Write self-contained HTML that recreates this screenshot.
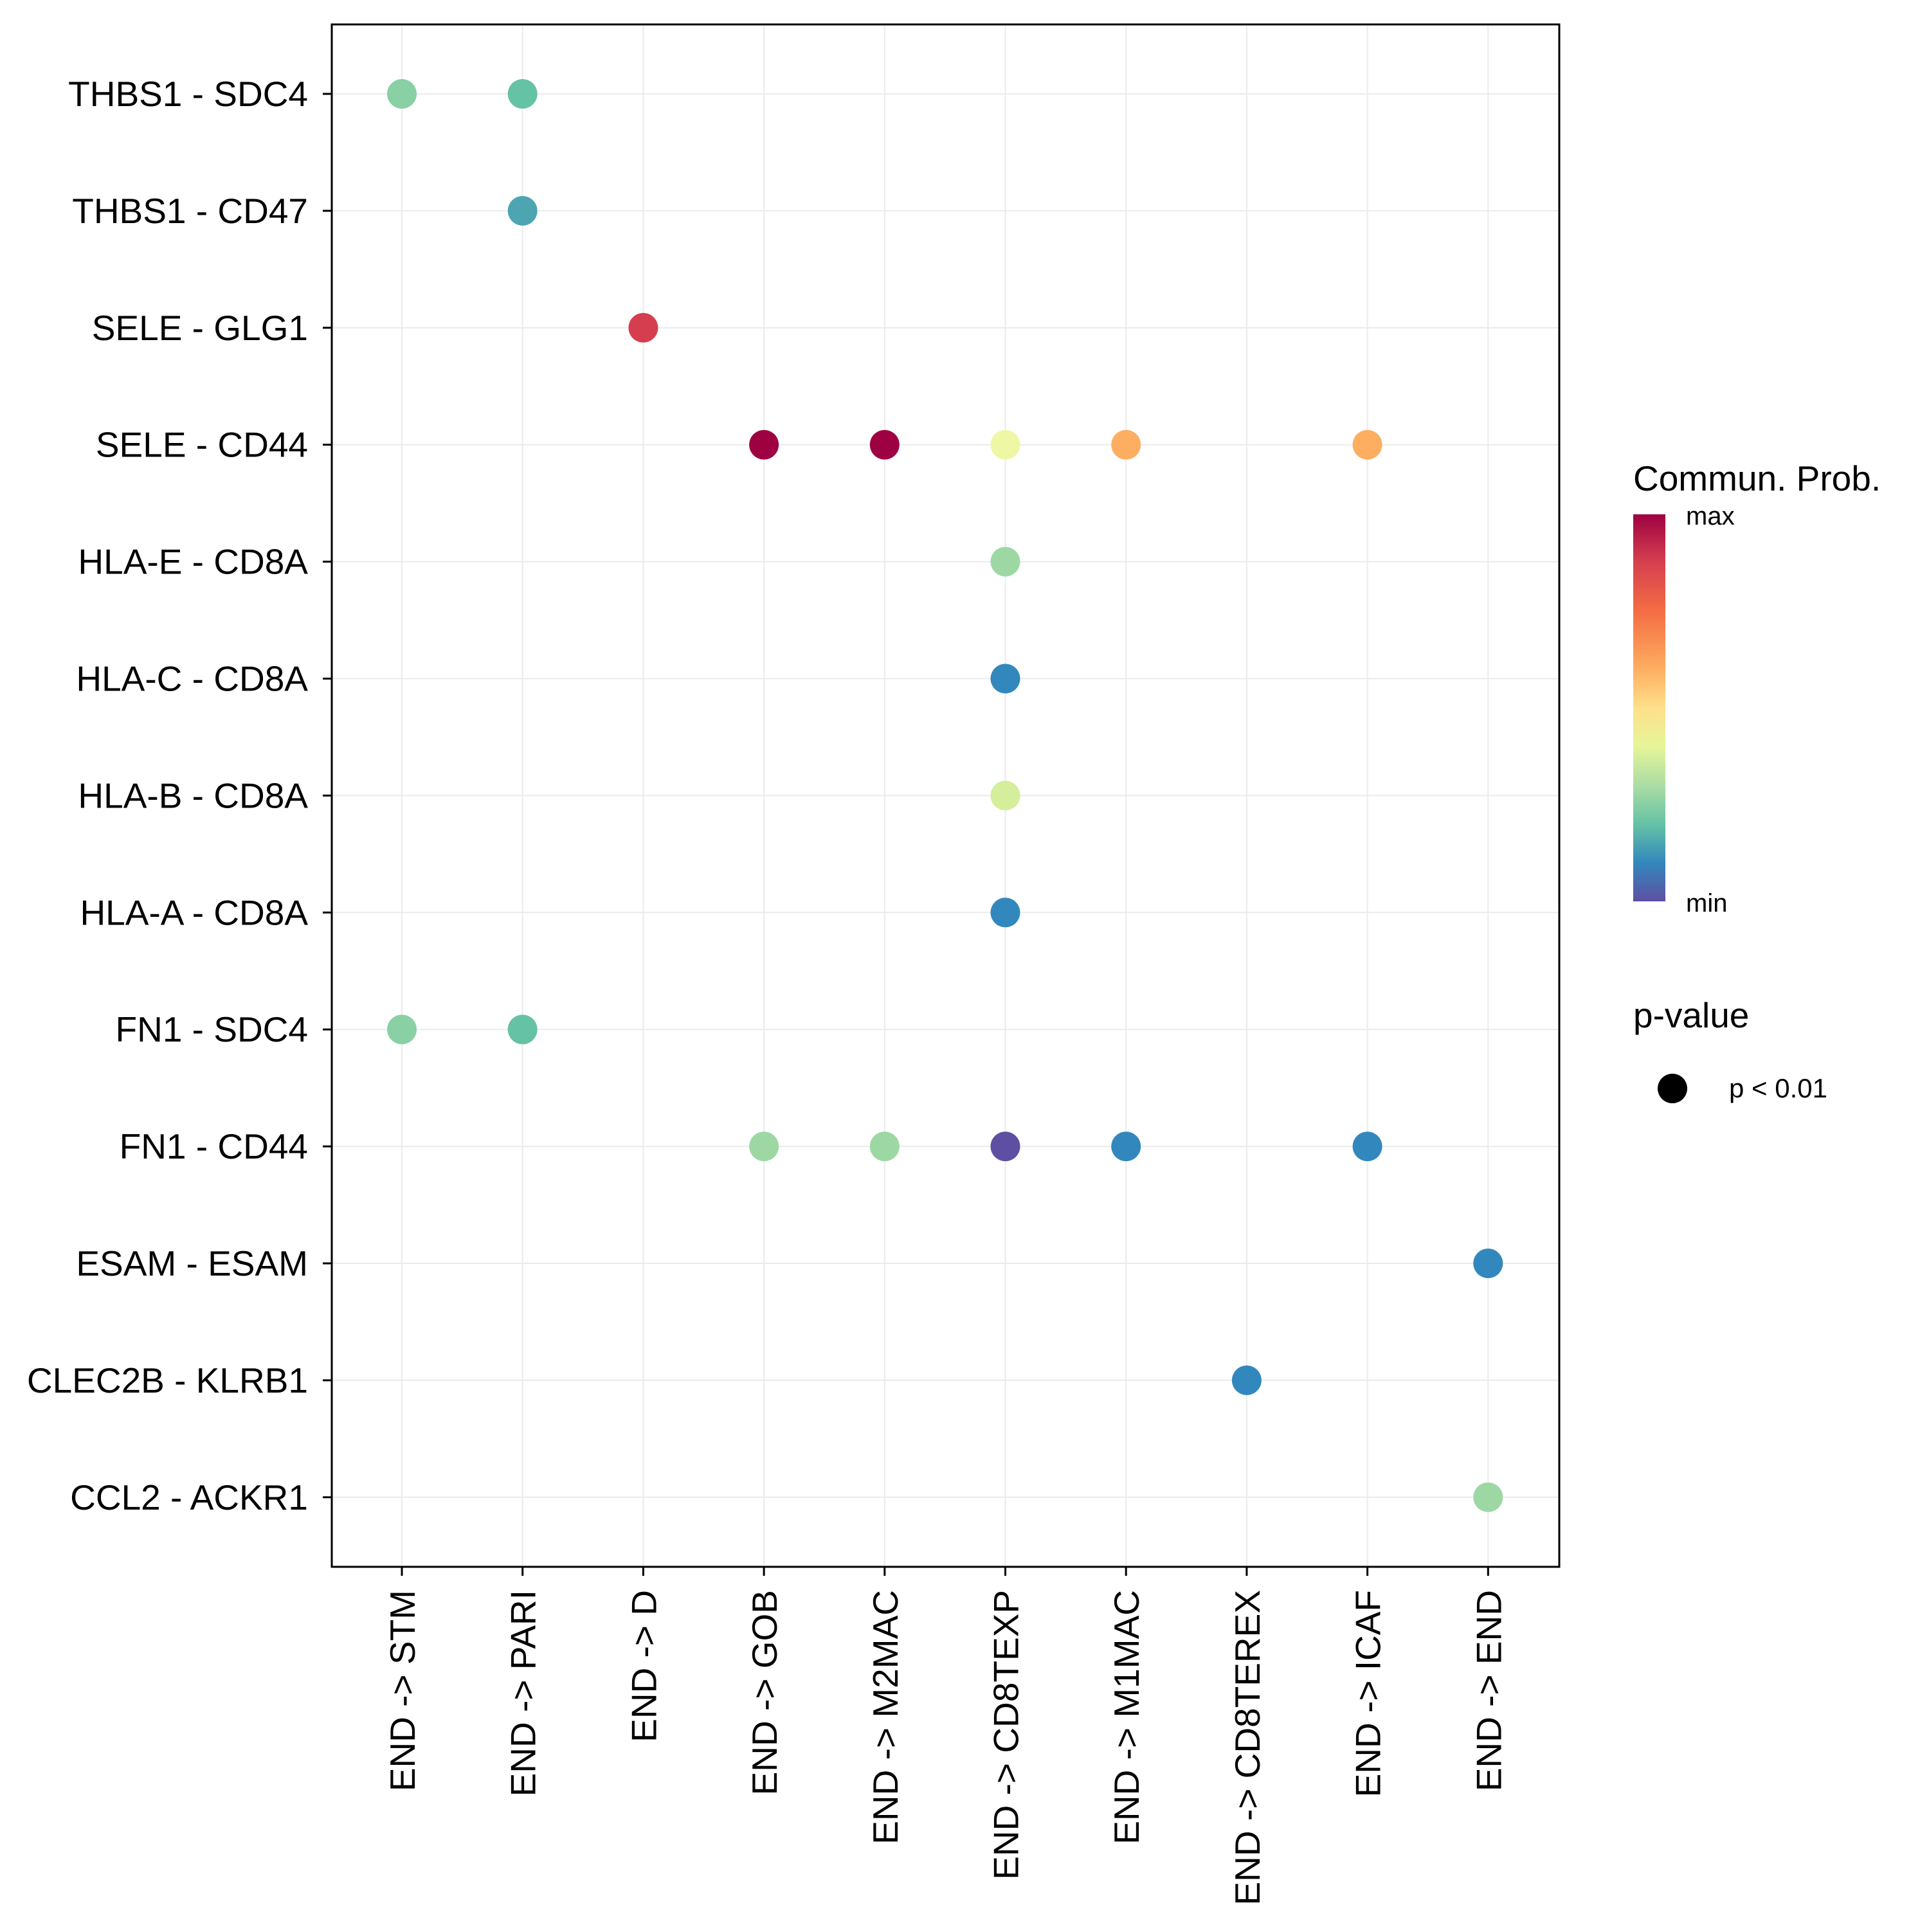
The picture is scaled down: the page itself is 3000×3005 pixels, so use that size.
<!DOCTYPE html>
<html><head><meta charset="utf-8"><style>
html,body{margin:0;padding:0;background:#fff;}
svg text{font-family:"Liberation Sans",Arial,sans-serif;}
</style></head><body>
<svg id="chart" width="3000" height="3000" viewBox="0 0 3000 3000" xmlns="http://www.w3.org/2000/svg">
<defs>
<linearGradient id="spec" x1="0" y1="1" x2="0" y2="0">
<stop offset="0" stop-color="#5e4fa2"/><stop offset="0.1" stop-color="#3288bd"/><stop offset="0.2" stop-color="#66c2a5"/><stop offset="0.3" stop-color="#abdda4"/><stop offset="0.4" stop-color="#e6f598"/><stop offset="0.5" stop-color="#fee08b"/><stop offset="0.6" stop-color="#fdae61"/><stop offset="0.75" stop-color="#f46d43"/><stop offset="0.88" stop-color="#d53e4f"/><stop offset="1" stop-color="#9e0142"/>
</linearGradient>
</defs>
<g id="grid"></g>
<g id="marks"></g>
<rect x="516" y="38" width="1909" height="2399" fill="none" stroke="#000" stroke-width="3"/>
<g id="yaxis"></g>
<g id="xaxis"></g>
<g>
<text x="2540" y="763" font-size="55">Commun. Prob.</text>
<rect x="2540" y="800" width="50" height="602" fill="url(#spec)"/>
<text x="2622" y="816" font-size="40">max</text>
<text x="2622" y="1418" font-size="40">min</text>
</g>
<g>
<text x="2540" y="1598" font-size="55">p-value</text>
<circle cx="2601" cy="1693" r="23" fill="#000"/>
<text x="2689" y="1707" font-size="42">p &lt; 0.01</text>
</g>
</svg>
<script>
const columns = ["END -> STM","END -> PARI","END -> D","END -> GOB","END -> M2MAC","END -> CD8TEXP","END -> M1MAC","END -> CD8TEREX","END -> ICAF","END -> END"];
const rows = ["THBS1 - SDC4","THBS1 - CD47","SELE - GLG1","SELE - CD44","HLA-E - CD8A","HLA-C - CD8A","HLA-B - CD8A","HLA-A - CD8A","FN1 - SDC4","FN1 - CD44","ESAM - ESAM","CLEC2B - KLRB1","CCL2 - ACKR1"];
const pointRow = ["THBS1 - SDC4","THBS1 - SDC4","THBS1 - CD47","SELE - GLG1","SELE - CD44","SELE - CD44","SELE - CD44","SELE - CD44","SELE - CD44","HLA-E - CD8A","HLA-C - CD8A","HLA-B - CD8A","HLA-A - CD8A","FN1 - SDC4","FN1 - SDC4","FN1 - CD44","FN1 - CD44","FN1 - CD44","FN1 - CD44","FN1 - CD44","ESAM - ESAM","CLEC2B - KLRB1","CCL2 - ACKR1"];
const pointCol = ["END -> STM","END -> PARI","END -> PARI","END -> D","END -> GOB","END -> M2MAC","END -> CD8TEXP","END -> M1MAC","END -> ICAF","END -> CD8TEXP","END -> CD8TEXP","END -> CD8TEXP","END -> CD8TEXP","END -> STM","END -> PARI","END -> GOB","END -> M2MAC","END -> CD8TEXP","END -> M1MAC","END -> ICAF","END -> END","END -> CD8TEREX","END -> END"];
const probValue = [0.25,0.2,0.15,0.9,1.0,1.0,0.43,0.7,0.7,0.28,0.1,0.37,0.1,0.25,0.2,0.28,0.28,0.0,0.1,0.1,0.1,0.1,0.28];

const NS="http://www.w3.org/2000/svg";
const L=516,R=2425,T=38,B=2437;
function xPos(c){const i=columns.indexOf(c);return 625+i*187.7;}
function yPos(r){const i=rows.indexOf(r);return 146+i*181.9;}
const pal=["#5e4fa2","#3288bd","#66c2a5","#abdda4","#e6f598","#ffffbf","#fee08b","#fdae61","#f46d43","#d53e4f","#9e0142"];
function hex(h){return [1,3,5].map(i=>parseInt(h.substr(i,2),16));}
function color(v){const t=Math.max(0,Math.min(1,v))*10;const i=Math.min(9,Math.floor(t));const f=t-i;const a=hex(pal[i]),b=hex(pal[i+1]);return "rgb("+a.map((x,k)=>Math.round(x+(b[k]-x)*f)).join(",")+")";}
function mk(tag,attrs,parent){const e=document.createElementNS(NS,tag);for(const k in attrs)e.setAttribute(k,attrs[k]);parent.appendChild(e);return e;}
const grid=document.getElementById('grid'),marks=document.getElementById('marks'),ya=document.getElementById('yaxis'),xa=document.getElementById('xaxis');
columns.forEach(c=>{const x=xPos(c);
 const g=mk('line',{x1:x,x2:x,y1:T,y2:B,stroke:'#ebebeb','stroke-width':2},grid);
 
 
 const t=mk('line',{x1:x,x2:x,y1:B,y2:B+14,stroke:'#000','stroke-width':3},xa);
 
 
 const tx=mk('text',{x:0,y:0,'font-size':55,'text-anchor':'end',transform:`translate(${x+20},${B+36}) rotate(-90)`},xa);
 tx.textContent=c;
 
 
});
rows.forEach(r=>{const y=yPos(r);
 const g=mk('line',{x1:L,x2:R,y1:y,y2:y,stroke:'#ebebeb','stroke-width':2},grid);
 
 
 const t=mk('line',{x1:L-14,x2:L,y1:y,y2:y,stroke:'#000','stroke-width':3},ya);
 
 
 const tx=mk('text',{x:479,y:y+19,'font-size':55,'text-anchor':'end'},ya);
 tx.textContent=r;
 
 
});
probValue.forEach((v,i)=>{
 const c=mk('circle',{cx:xPos(pointCol[i]),cy:yPos(pointRow[i]),r:23,fill:color(v)},marks);
 
 
});
</script>
</body></html>
